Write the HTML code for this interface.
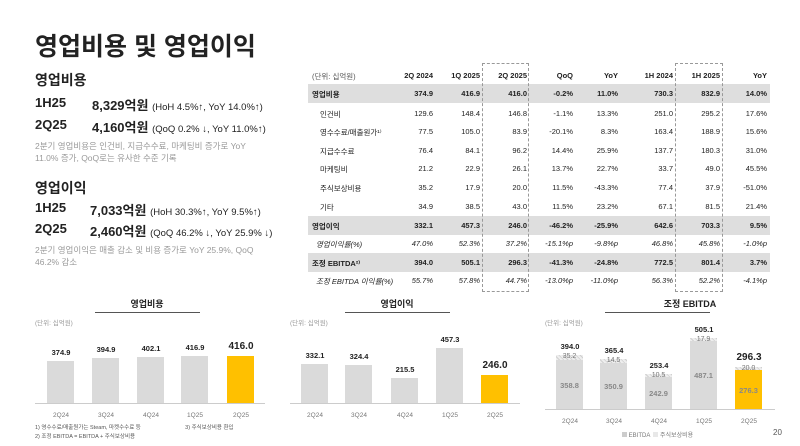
<!DOCTYPE html>
<html><head><meta charset="utf-8"><style>
body{margin:0;width:800px;height:446px;background:#fff;position:relative;overflow:hidden;font-family:"Liberation Sans","Noto Sans CJK KR",sans-serif;color:#222}
.a{position:absolute;white-space:nowrap}
.b{font-weight:bold}
.g{color:#9a9a9a;font-size:8.5px;line-height:12px}
.row{position:absolute;left:308px;width:462px;height:19px;font-size:7.5px}
.row span{position:absolute;top:5px}
.gr{background:#dedede}
.bar{position:absolute;background:#dadada}
.y{background:#ffc000}
.v{position:absolute;font-size:7.5px;font-weight:bold;width:40px;text-align:center}
.xl{position:absolute;font-size:6.5px;color:#777;width:40px;text-align:center}
</style></head><body>
<div class="a b" style="left:35px;top:27px;font-size:25px">영업비용 및 영업이익</div>
<div class="a b" style="left:35px;top:70px;font-size:14px">영업비용</div>
<div class="a b" style="left:35px;top:95px;font-size:13px">1H25</div>
<div class="a" style="left:92px;top:95px;font-size:13px"><b>8,329억원</b> <span style="font-size:9.5px">(HoH 4.5%↑, YoY 14.0%↑)</span></div>
<div class="a b" style="left:35px;top:117px;font-size:13px">2Q25</div>
<div class="a" style="left:92px;top:117px;font-size:13px"><b>4,160억원</b> <span style="font-size:9.5px">(QoQ 0.2% ↓, YoY 11.0%↑)</span></div>
<div class="a g" style="left:35px;top:140px">2분기 영업비용은 인건비, 지급수수료, 마케팅비 증가로 YoY<br>11.0% 증가, QoQ로는 유사한 수준 기록</div>
<div class="a b" style="left:35px;top:178px;font-size:14px">영업이익</div>
<div class="a b" style="left:35px;top:200px;font-size:13px">1H25</div>
<div class="a" style="left:90px;top:200px;font-size:13px"><b>7,033억원</b> <span style="font-size:9.5px">(HoH 30.3%↑, YoY 9.5%↑)</span></div>
<div class="a b" style="left:35px;top:221px;font-size:13px">2Q25</div>
<div class="a" style="left:90px;top:221px;font-size:13px"><b>2,460억원</b> <span style="font-size:9.5px">(QoQ 46.2% ↓, YoY 25.9% ↓)</span></div>
<div class="a g" style="left:35px;top:244px">2분기 영업이익은 매출 감소 및 비용 증가로 YoY 25.9%, QoQ<br>46.2% 감소</div>

<div id="tbl"></div>
<div class="a" style="left:482px;top:63px;width:45px;height:227px;border:1px dashed #999"></div>
<div class="a" style="left:675px;top:63px;width:46px;height:227px;border:1px dashed #999"></div>

<div class="a b" style="left:127px;top:297px;font-size:9px;width:40px;text-align:center">영업비용</div>
<div class="a" style="left:95px;top:312px;width:105px;border-top:1px solid #555"></div>
<div class="a" style="left:35px;top:317px;font-size:6.5px;color:#999">(단위: 십억원)</div>
<div class="a b" style="left:367px;top:297px;font-size:9px;width:60px;text-align:center">영업이익</div>
<div class="a" style="left:345px;top:312px;width:105px;border-top:1px solid #555"></div>
<div class="a" style="left:290px;top:317px;font-size:6.5px;color:#999">(단위: 십억원)</div>
<div class="a b" style="left:655px;top:297px;font-size:9px;width:70px;text-align:center">조정 EBITDA</div>
<div class="a" style="left:605px;top:312px;width:105px;border-top:1px solid #555"></div>
<div class="a" style="left:545px;top:317px;font-size:6.5px;color:#999">(단위: 십억원)</div>
<div class="a" style="left:35px;top:403px;width:230px;border-top:1px solid #ccc"></div>
<div class="a" style="left:290px;top:403px;width:230px;border-top:1px solid #ccc"></div>
<div class="a" style="left:545px;top:409px;width:230px;border-top:1px solid #ccc"></div>
<div id="ch"></div>
<div class="a" style="left:35px;top:424px;font-size:5.5px;color:#555;line-height:9px">1) 영수수료/매출원가는 Steam, 마켓수수료 등 &nbsp;&nbsp;&nbsp;&nbsp;&nbsp;&nbsp;&nbsp;&nbsp;&nbsp;&nbsp;&nbsp;&nbsp;&nbsp;&nbsp;&nbsp;&nbsp;&nbsp;&nbsp;&nbsp;&nbsp;&nbsp;&nbsp;&nbsp;&nbsp;&nbsp;&nbsp;&nbsp; 3) 주식보상비용 환입<br>2) 조정 EBITDA = EBITDA + 주식보상비용</div>
<div class="a" style="left:622px;top:430px;font-size:6px;color:#777"><span style="display:inline-block;width:5px;height:5px;background:#ccc"></span> EBITDA &nbsp;<span style="display:inline-block;width:5px;height:5px;background:#e8e8e8"></span> 주식보상비용</div>
<div class="a" style="left:773px;top:428px;font-size:8px;color:#555">20</div>
<script>
var rows=[
["영업비용","374.9","416.9","416.0","-0.2%","11.0%","730.3","832.9","14.0%",1,84],
["인건비","129.6","148.4","146.8","-1.1%","13.3%","251.0","295.2","17.6%",0,104],
["영수수료/매출원가¹⁾","77.5","105.0","83.9","-20.1%","8.3%","163.4","188.9","15.6%",0,122],
["지급수수료","76.4","84.1","96.2","14.4%","25.9%","137.7","180.3","31.0%",0,141],
["마케팅비","21.2","22.9","26.1","13.7%","22.7%","33.7","49.0","45.5%",0,159],
["주식보상비용","35.2","17.9","20.0","11.5%","-43.3%","77.4","37.9","-51.0%",0,178],
["기타","34.9","38.5","43.0","11.5%","23.2%","67.1","81.5","21.4%",0,197],
["영업이익","332.1","457.3","246.0","-46.2%","-25.9%","642.6","703.3","9.5%",1,216],
["영업이익률(%)","47.0%","52.3%","37.2%","-15.1%p","-9.8%p","46.8%","45.8%","-1.0%p",2,234],
["조정 EBITDA²⁾","394.0","505.1","296.3","-41.3%","-24.8%","772.5","801.4","3.7%",1,253],
["조정 EBITDA 이익률(%)","55.7%","57.8%","44.7%","-13.0%p","-11.0%p","56.3%","52.2%","-4.1%p",2,271]];
var R=[433,480,527,573,618,673,720,767],h='';
h+='<div class="row" style="top:66px;font-weight:bold"><span style="left:4px;font-weight:normal;color:#555">(단위: 십억원)</span>';
["2Q 2024","1Q 2025","2Q 2025","QoQ","YoY","1H 2024","1H 2025","YoY"].forEach(function(t,i){h+='<span style="right:'+(770-R[i])+'px">'+t+'</span>'});h+='</div>';
rows.forEach(function(r){var c=r[9];h+='<div class="row'+(c==1?' gr':'')+'" style="top:'+r[10]+'px;'+(c==1?'font-weight:bold;':'')+(c==2?'font-style:italic;':'')+'"><span style="left:'+(c==0?12:(c==2?8:4))+'px">'+r[0]+'</span>';
for(var i=1;i<9;i++)h+='<span style="right:'+(770-R[i-1])+'px">'+r[i]+'</span>';h+='</div>'});
document.getElementById('tbl').innerHTML=h;
var g='',L=['2Q24','3Q24','4Q24','1Q25','2Q25'];
function ch(xs,tops,vals,base){xs.forEach(function(x,i){var y=i==4;g+='<div class="bar'+(y?' y':'')+'" style="left:'+x+'px;top:'+tops[i]+'px;width:27px;height:'+(base-tops[i])+'px"></div>';
g+='<div class="v" style="left:'+(x-6)+'px;top:'+(tops[i]-(y?15:13))+'px;'+(y?'font-size:10px':'')+'">'+vals[i]+'</div>';
g+='<div class="xl" style="left:'+(x-6)+'px;top:'+(base+9)+'px">'+L[i]+'</div>'})}
ch([47,92,137,181,227],[361,358,357,356,356],['374.9','394.9','402.1','416.9','416.0'],403);
ch([301,345,391,436,481],[364,365,378,348,375],['332.1','324.4','215.5','457.3','246.0'],403);
ch([556,600,645,690,735],[355,359,374,338,367],['394.0','365.4','253.4','505.1','296.3'],409);
var st=[[556,355,360,'35.2','358.8'],[600,359,363,'14.5','350.9'],[645,374,377,'10.5','242.9'],[690,338,341,'17.9','487.1'],[735,367,370,'20.0','276.3']];
st.forEach(function(s,i){g+='<div class="a" style="left:'+s[0]+'px;top:'+s[1]+'px;width:27px;height:'+(s[2]-s[1])+'px;background:repeating-linear-gradient(45deg,#eee 0 2px,#d0d0d0 2px 3px)"></div>';
g+='<div class="a" style="left:'+s[0]+'px;top:'+(s[1]-2)+'px;width:27px;text-align:center;font-size:7px;color:#777">'+s[3]+'</div>';
g+='<div class="a" style="left:'+s[0]+'px;top:'+((s[2]+409)/2-4)+'px;width:27px;text-align:center;font-size:7.5px;color:#888;font-weight:bold">'+s[4]+'</div>'});
document.getElementById('ch').innerHTML=g;
</script>
</body></html>
